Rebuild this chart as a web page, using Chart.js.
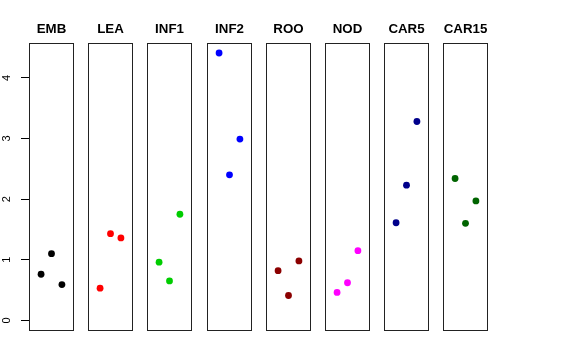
<!DOCTYPE html>
<html>
<head>
<meta charset="utf-8">
<script src="https://cdn.jsdelivr.net/npm/chart.js@4"></script>
<style>
  html, body { margin: 0; padding: 0; background: #fff; }
  #wrap { position: relative; width: 576px; height: 360px; overflow: hidden; background: #fff; }
  #wrap canvas { position: absolute; top: 0; }
</style>
</head>
<body>
<div id="wrap"></div>
<script>
// ---- data ----
const categories = ['EMB', 'LEA', 'INF1', 'INF2', 'ROO', 'NOD', 'CAR5', 'CAR15'];
const xPositions = [1, 2, 3];
const EMB   = [0.76, 1.10, 0.59];
const LEA   = [0.53, 1.43, 1.36];
const INF1  = [0.96, 0.65, 1.75];
const INF2  = [4.41, 2.40, 2.99];
const ROO   = [0.82, 0.41, 0.98];
const NOD   = [0.46, 0.62, 1.15];
const CAR5  = [1.61, 2.23, 3.28];
const CAR15 = [2.34, 1.60, 1.97];
const seriesValues = [EMB, LEA, INF1, INF2, ROO, NOD, CAR5, CAR15];
const yTickLabels = [0, 1, 2, 3, 4];

// ---- styles / layout ----
const colors = ['#000000', '#FF0000', '#00CD00', '#0000FF', '#8B0000', '#FF00FF', '#00008B', '#006400'];
const panelLefts = [29, 88, 147, 207, 266, 325, 384, 443];
const panelWidth = 45;
const yAxisWidth = 29;
const FONT = "'Liberation Sans', Arial, Helvetica, sans-serif";

const borderPlugin = {
  id: 'panelBorder',
  afterDatasetsDraw(chart) {
    const a = chart.chartArea;
    const ctx = chart.ctx;
    ctx.save();
    ctx.strokeStyle = '#222';
    ctx.lineWidth = 1;
    ctx.strokeRect(Math.round(a.left) + 0.5, Math.round(a.top) + 0.5,
                   Math.round(a.right - a.left) - 1, Math.round(a.bottom - a.top) - 1);
    ctx.restore();
  }
};

const wrap = document.getElementById('wrap');

categories.forEach((cat, i) => {
  const hasAxis = i === 0;
  const canvas = document.createElement('canvas');
  const w = hasAxis ? panelLefts[0] + panelWidth : panelWidth;
  canvas.width = w;
  canvas.height = 360;
  canvas.style.width = w + 'px';
  canvas.style.height = '360px';
  canvas.style.left = (hasAxis ? 0 : panelLefts[i]) + 'px';
  wrap.appendChild(canvas);

  const yScale = {
    type: 'linear',
    display: hasAxis,
    position: 'left',
    min: -0.176,
    max: 4.576,
    afterBuildTicks: (scale) => { scale.ticks = yTickLabels.map(v => ({ value: v })); },
    border: { display: false },
    grid: {
      display: true,
      drawOnChartArea: false,
      drawTicks: true,
      tickLength: 8,
      color: '#000',
      lineWidth: 1
    },
    ticks: {
      autoSkip: false,
      minRotation: 90,
      maxRotation: 90,
      crossAlign: 'center',
      padding: 10.5,
      color: '#000',
      font: { family: FONT, size: 11 },
      callback: (v) => String(v)
    }
  };
  if (hasAxis) {
    yScale.afterFit = (scale) => { scale.width = yAxisWidth; scale.paddingTop = 0; scale.paddingBottom = 0; };
  }

  new Chart(canvas, {
    type: 'scatter',
    data: {
      datasets: [{
        data: xPositions.map((x, k) => ({ x: x, y: seriesValues[i][k] })),
        backgroundColor: colors[i],
        borderWidth: 0,
        pointRadius: 3.4,
        pointHoverRadius: 3.4
      }]
    },
    options: {
      responsive: false,
      animation: false,
      devicePixelRatio: 1,
      events: [],
      layout: { autoPadding: false, padding: { left: 0, right: 0, top: 0, bottom: 29 } },
      plugins: {
        legend: { display: false },
        tooltip: { enabled: false },
        title: {
          display: true,
          text: cat,
          fullSize: false,
          color: '#000',
          font: { family: FONT, size: 13.3, weight: 'bold', lineHeight: 1.2 },
          padding: { top: 21, bottom: 6 }
        }
      },
      scales: {
        x: {
          type: 'linear',
          display: false,
          min: -0.16,
          max: 4.16
        },
        y: yScale
      }
    },
    plugins: [borderPlugin]
  });
});
</script>
</body>
</html>
